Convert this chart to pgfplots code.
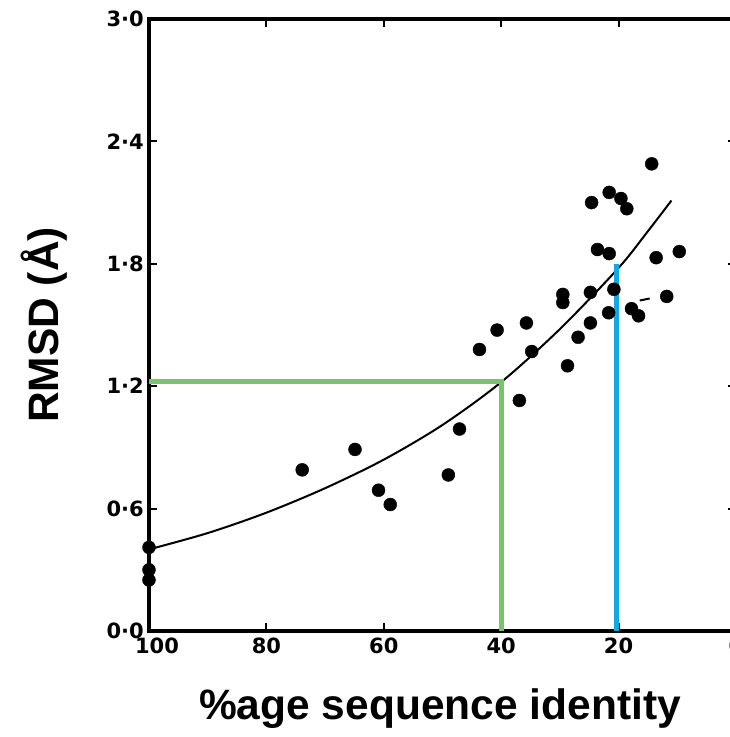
\documentclass[border=0pt]{standalone}
\usepackage{pgfplots}
\pgfplotsset{compat=1.18}
\usepackage{fontspec}
\setmainfont{Liberation Sans}
\newfontfamily\tickfont{DejaVu Sans}
\definecolor{gline}{RGB}{119,196,108}
\definecolor{bline}{RGB}{18,168,230}
\begin{document}
\begin{tikzpicture}
\begin{axis}[
  scale only axis, width=587pt, height=612pt,
  x dir=reverse, xmin=0, xmax=100, ymin=0, ymax=3,
  clip=false,
  axis line style={line width=4.5pt},
  xtick={0,20,40,60,80,100}, xticklabels={0,20,40,60,80,\hspace*{16pt}100},
  ytick={0,0.6,1.2,1.8,2.4,3.0}, yticklabels={0·0,0·6,1·2,1·8,2·4,3·0},
  tick align=inside, major tick length=8pt, tick style={line width=2pt, black},
  xticklabel style={font=\tickfont\bfseries\fontsize{21}{21}\selectfont, anchor=north, inner sep=0pt, yshift=-7pt},
  yticklabel style={font=\tickfont\bfseries\fontsize{21}{21}\selectfont, anchor=east, inner sep=0pt, xshift=-5pt},
  xlabel={\%age sequence identity},
  ylabel={RMSD (Å)},
  xlabel style={font=\bfseries\fontsize{42.5}{42.5}\selectfont, at={(axis description cs:0.4957,-0.1454)}, anchor=base},
  ylabel style={font=\bfseries\fontsize{42.5}{42.5}\selectfont, at={(axis description cs:-0.1550,0.5)}, anchor=base, rotate=0},
]
\addplot[black, line width=2pt, smooth, no marks] coordinates {
(100,0.40)(90,0.48)(80,0.58)(70,0.70)(60,0.84)(50,1.01)(40,1.22)(30,1.48)(20,1.78)(15,1.96)(11,2.11)};
\addplot[black, line width=2pt, no marks] coordinates {(16.4,1.62)(14.7,1.63)};
\addplot[only marks, mark=*, mark size=6.5pt, black] coordinates {
(100,0.41)(100,0.30)(100,0.25)
(73.9,0.79)(64.9,0.89)(60.9,0.69)(58.9,0.62)(49.0,0.765)(47.1,0.99)
(43.7,1.38)(40.7,1.475)(36.9,1.13)(35.7,1.51)(34.8,1.37)
(29.5,1.65)(29.5,1.61)(28.7,1.30)(26.9,1.44)
(24.8,1.51)(24.8,1.66)(24.6,2.10)(23.6,1.87)
(21.6,2.15)(21.6,1.85)(21.7,1.56)(20.8,1.675)
(19.6,2.12)(18.6,2.07)(17.8,1.58)(16.6,1.545)
(14.36,2.29)(13.6,1.83)(11.8,1.64)(9.66,1.86)};
\addplot[gline, line width=5pt, no marks] coordinates {(100,1.225)(40,1.225)(40,0)};
\addplot[bline, line width=5pt, no marks] coordinates {(20.3,1.80)(20.3,0)};
\end{axis}
\pgfresetboundingbox
\useasboundingbox (-149pt,-106pt) rectangle (581pt,631pt);
\end{tikzpicture}
\end{document}
